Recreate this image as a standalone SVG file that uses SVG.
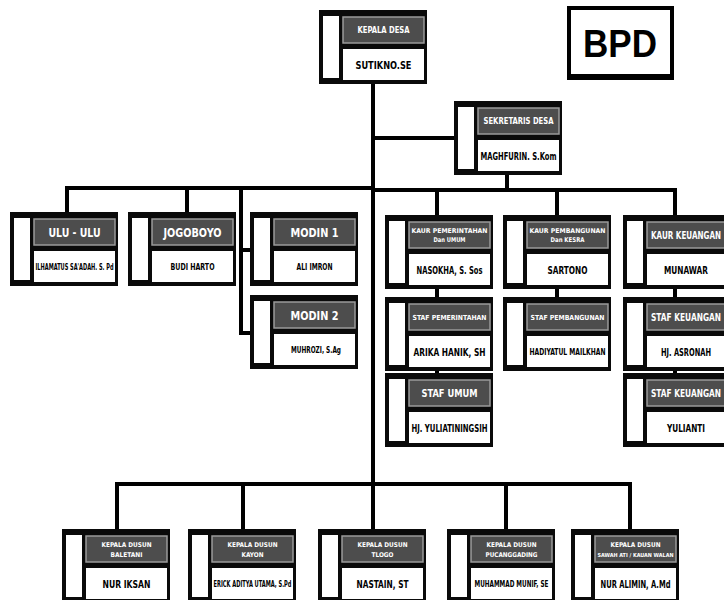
<svg xmlns="http://www.w3.org/2000/svg" width="724" height="600" viewBox="0 0 724 600">
<style>
.frame{fill:#0a0a0a}
.strip{fill:#fff}
.hdr{fill:#4d4d4d;stroke:#9a9a9a;stroke-width:1.5}
.nm{fill:#fff}
.ht{fill:#fff;font-family:"DejaVu Sans Condensed","Liberation Sans Narrow","Liberation Sans",sans-serif;font-weight:bold;text-anchor:middle}
.nt{fill:#000;font-family:"DejaVu Sans Condensed","Liberation Sans Narrow","Liberation Sans",sans-serif;font-weight:bold;text-anchor:middle}
.ln{stroke:#000;stroke-width:4;fill:none;stroke-linecap:square}
</style>
<defs>
<g id="box">
<rect class="frame" x="0" y="0" width="108" height="74"/>
<rect class="strip" x="4" y="6" width="16" height="62"/>
<rect class="hdr" x="24" y="7" width="81" height="26"/>
<rect class="nm" x="24" y="39" width="81" height="31"/>
</g>
</defs>
<rect width="724" height="600" fill="#fff"/>

<g id="connectors">
<path class="ln" d="M373 83V485"/>
<path class="ln" d="M373 138H454"/>
<path class="ln" d="M67 188H373"/>
<path class="ln" d="M67 188V212M187 188V212M241 188V333M241 250H250M241 333H250"/>
<path class="ln" d="M507 175V190M373 190H675"/>
<path class="ln" d="M437 190V215M557 190V215M675 190V215"/>
<path class="ln" d="M437 287V297M437 368V373M557 287V297M675 287V297M675 368V373"/>
<path class="ln" d="M117 484H630"/>
<path class="ln" d="M117 484V529M243 484V529M506 484V529M630 484V529M373 485V529"/>
</g>

<g id="bpd">
<rect x="569" y="8" width="103" height="68" fill="#fff" stroke="#000" stroke-width="4"/>
<rect x="567" y="74" width="107" height="6" fill="#000"/>
<text x="620" y="57" font-family="'Liberation Sans',Arial,sans-serif" font-weight="bold" font-size="38" text-anchor="middle" textLength="74" lengthAdjust="spacingAndGlyphs">BPD</text>
</g>

<g id="kepala-desa" transform="translate(319,10)">
<use href="#box"/>
<text class="ht" x="64.5" y="23" font-size="8" textLength="52" lengthAdjust="spacingAndGlyphs">KEPALA DESA</text>
<text class="nt" x="64.5" y="59" font-size="11" textLength="56" lengthAdjust="spacingAndGlyphs">SUTIKNO.SE</text>
</g>

<g id="sekretaris-desa" transform="translate(454,101)">
<use href="#box"/>
<text class="ht" x="64.5" y="23" font-size="9" textLength="70" lengthAdjust="spacingAndGlyphs">SEKRETARIS DESA</text>
<text class="nt" x="64.5" y="59" font-size="11" textLength="76" lengthAdjust="spacingAndGlyphs">MAGHFURIN. S.Kom</text>
</g>

<g id="ulu-ulu" transform="translate(10,212)">
<use href="#box"/>
<text class="ht" x="64.5" y="25" font-size="13" textLength="52" lengthAdjust="spacingAndGlyphs">ULU - ULU</text>
<text class="nt" x="64.5" y="58" font-size="8" textLength="78" lengthAdjust="spacingAndGlyphs">ILHAMATUS SA'ADAH. S. Pd</text>
</g>

<g id="jogoboyo" transform="translate(128,212)">
<use href="#box"/>
<text class="ht" x="64.5" y="25" font-size="13" textLength="58" lengthAdjust="spacingAndGlyphs">JOGOBOYO</text>
<text class="nt" x="64.5" y="58" font-size="8.5" textLength="44" lengthAdjust="spacingAndGlyphs">BUDI HARTO</text>
</g>

<g id="modin-1" transform="translate(250,212)">
<use href="#box"/>
<text class="ht" x="64.5" y="25" font-size="13" textLength="48" lengthAdjust="spacingAndGlyphs">MODIN 1</text>
<text class="nt" x="64.5" y="58" font-size="8.5" textLength="36" lengthAdjust="spacingAndGlyphs">ALI IMRON</text>
</g>

<g id="modin-2" transform="translate(250,295)">
<use href="#box"/>
<text class="ht" x="64.5" y="25" font-size="13" textLength="48" lengthAdjust="spacingAndGlyphs">MODIN 2</text>
<text class="nt" x="66" y="58" font-size="8.5" textLength="50" lengthAdjust="spacingAndGlyphs">MUHROZI, S.Ag</text>
</g>

<g id="kaur-pemerintahan" transform="translate(385,215)">
<use href="#box"/>
<text class="ht" x="64.5" y="18" font-size="6.5" textLength="76" lengthAdjust="spacingAndGlyphs">KAUR PEMERINTAHAN</text>
<text class="ht" x="64.5" y="27" font-size="6.5" textLength="32" lengthAdjust="spacingAndGlyphs">Dan UMUM</text>
<text class="nt" x="64.5" y="59" font-size="11" textLength="66" lengthAdjust="spacingAndGlyphs">NASOKHA, S. Sos</text>
</g>

<g id="staf-pemerintahan" transform="translate(385,297)">
<use href="#box"/>
<text class="ht" x="64.5" y="23" font-size="7" textLength="74" lengthAdjust="spacingAndGlyphs">STAF PEMERINTAHAN</text>
<text class="nt" x="64.5" y="59" font-size="11" textLength="72" lengthAdjust="spacingAndGlyphs">ARIKA HANIK, SH</text>
</g>

<g id="staf-umum" transform="translate(385,373)">
<use href="#box"/>
<text class="ht" x="64.5" y="24" font-size="10" textLength="56" lengthAdjust="spacingAndGlyphs">STAF UMUM</text>
<text class="nt" x="64.5" y="59" font-size="10.5" textLength="76" lengthAdjust="spacingAndGlyphs">HJ. YULIATININGSIH</text>
</g>

<g id="kaur-pembangunan" transform="translate(503,215)">
<use href="#box"/>
<text class="ht" x="64.5" y="18" font-size="6.5" textLength="76" lengthAdjust="spacingAndGlyphs">KAUR PEMBANGUNAN</text>
<text class="ht" x="64.5" y="27" font-size="6.5" textLength="34" lengthAdjust="spacingAndGlyphs">Dan KESRA</text>
<text class="nt" x="64.5" y="59" font-size="11" textLength="40" lengthAdjust="spacingAndGlyphs">SARTONO</text>
</g>

<g id="staf-pembangunan" transform="translate(503,297)">
<use href="#box"/>
<text class="ht" x="64.5" y="23" font-size="7" textLength="74" lengthAdjust="spacingAndGlyphs">STAF PEMBANGUNAN</text>
<text class="nt" x="64.5" y="58" font-size="8" textLength="76" lengthAdjust="spacingAndGlyphs">HADIYATUL MAILKHAN</text>
</g>

<g id="kaur-keuangan" transform="translate(623,215)">
<use href="#box"/>
<text class="ht" x="63" y="24" font-size="10" textLength="70" lengthAdjust="spacingAndGlyphs">KAUR KEUANGAN</text>
<text class="nt" x="63" y="59" font-size="11" textLength="44" lengthAdjust="spacingAndGlyphs">MUNAWAR</text>
</g>

<g id="staf-keuangan-1" transform="translate(623,297)">
<use href="#box"/>
<text class="ht" x="63" y="24" font-size="10" textLength="70" lengthAdjust="spacingAndGlyphs">STAF KEUANGAN</text>
<text class="nt" x="63" y="59" font-size="11" textLength="50" lengthAdjust="spacingAndGlyphs">HJ. ASRONAH</text>
</g>

<g id="staf-keuangan-2" transform="translate(623,373)">
<use href="#box"/>
<text class="ht" x="63" y="24" font-size="10" textLength="70" lengthAdjust="spacingAndGlyphs">STAF KEUANGAN</text>
<text class="nt" x="63" y="59" font-size="11" textLength="38" lengthAdjust="spacingAndGlyphs">YULIANTI</text>
</g>

<g id="kadus-baletani" transform="translate(62,529)">
<use href="#box"/>
<text class="ht" x="64.5" y="18" font-size="6.5" textLength="50" lengthAdjust="spacingAndGlyphs">KEPALA DUSUN</text>
<text class="ht" x="64.5" y="28" font-size="6.5" textLength="32" lengthAdjust="spacingAndGlyphs">BALETANI</text>
<text class="nt" x="64.5" y="59" font-size="11" textLength="48" lengthAdjust="spacingAndGlyphs">NUR IKSAN</text>
</g>

<g id="kadus-kayon" transform="translate(188,529)">
<use href="#box"/>
<text class="ht" x="64.5" y="18" font-size="6.5" textLength="50" lengthAdjust="spacingAndGlyphs">KEPALA DUSUN</text>
<text class="ht" x="64.5" y="28" font-size="6.5" textLength="22" lengthAdjust="spacingAndGlyphs">KAYON</text>
<text class="nt" x="64.5" y="58" font-size="8" textLength="78" lengthAdjust="spacingAndGlyphs">ERICK ADITYA UTAMA, S.Pd</text>
</g>

<g id="kadus-tlogo" transform="translate(318,529)">
<use href="#box"/>
<text class="ht" x="64.5" y="18" font-size="6.5" textLength="50" lengthAdjust="spacingAndGlyphs">KEPALA DUSUN</text>
<text class="ht" x="64.5" y="28" font-size="6.5" textLength="22" lengthAdjust="spacingAndGlyphs">TLOGO</text>
<text class="nt" x="64.5" y="59" font-size="11" textLength="52" lengthAdjust="spacingAndGlyphs">NASTAIN, ST</text>
</g>

<g id="kadus-pucanggading" transform="translate(447,529)">
<use href="#box"/>
<text class="ht" x="64.5" y="18" font-size="6.5" textLength="50" lengthAdjust="spacingAndGlyphs">KEPALA DUSUN</text>
<text class="ht" x="64.5" y="28" font-size="6.5" textLength="52" lengthAdjust="spacingAndGlyphs">PUCANGGADING</text>
<text class="nt" x="64.5" y="58" font-size="8" textLength="74" lengthAdjust="spacingAndGlyphs">MUHAMMAD MUNIF, SE</text>
</g>

<g id="kadus-sawahati" transform="translate(571,529)">
<use href="#box"/>
<text class="ht" x="64.5" y="18" font-size="6.5" textLength="50" lengthAdjust="spacingAndGlyphs">KEPALA DUSUN</text>
<text class="ht" x="64.5" y="28" font-size="5.5" textLength="76" lengthAdjust="spacingAndGlyphs">SAWAH ATI / KAUAN WALAN</text>
<text class="nt" x="64.5" y="59" font-size="11" textLength="70" lengthAdjust="spacingAndGlyphs">NUR ALIMIN, A.Md</text>
</g>
</svg>
